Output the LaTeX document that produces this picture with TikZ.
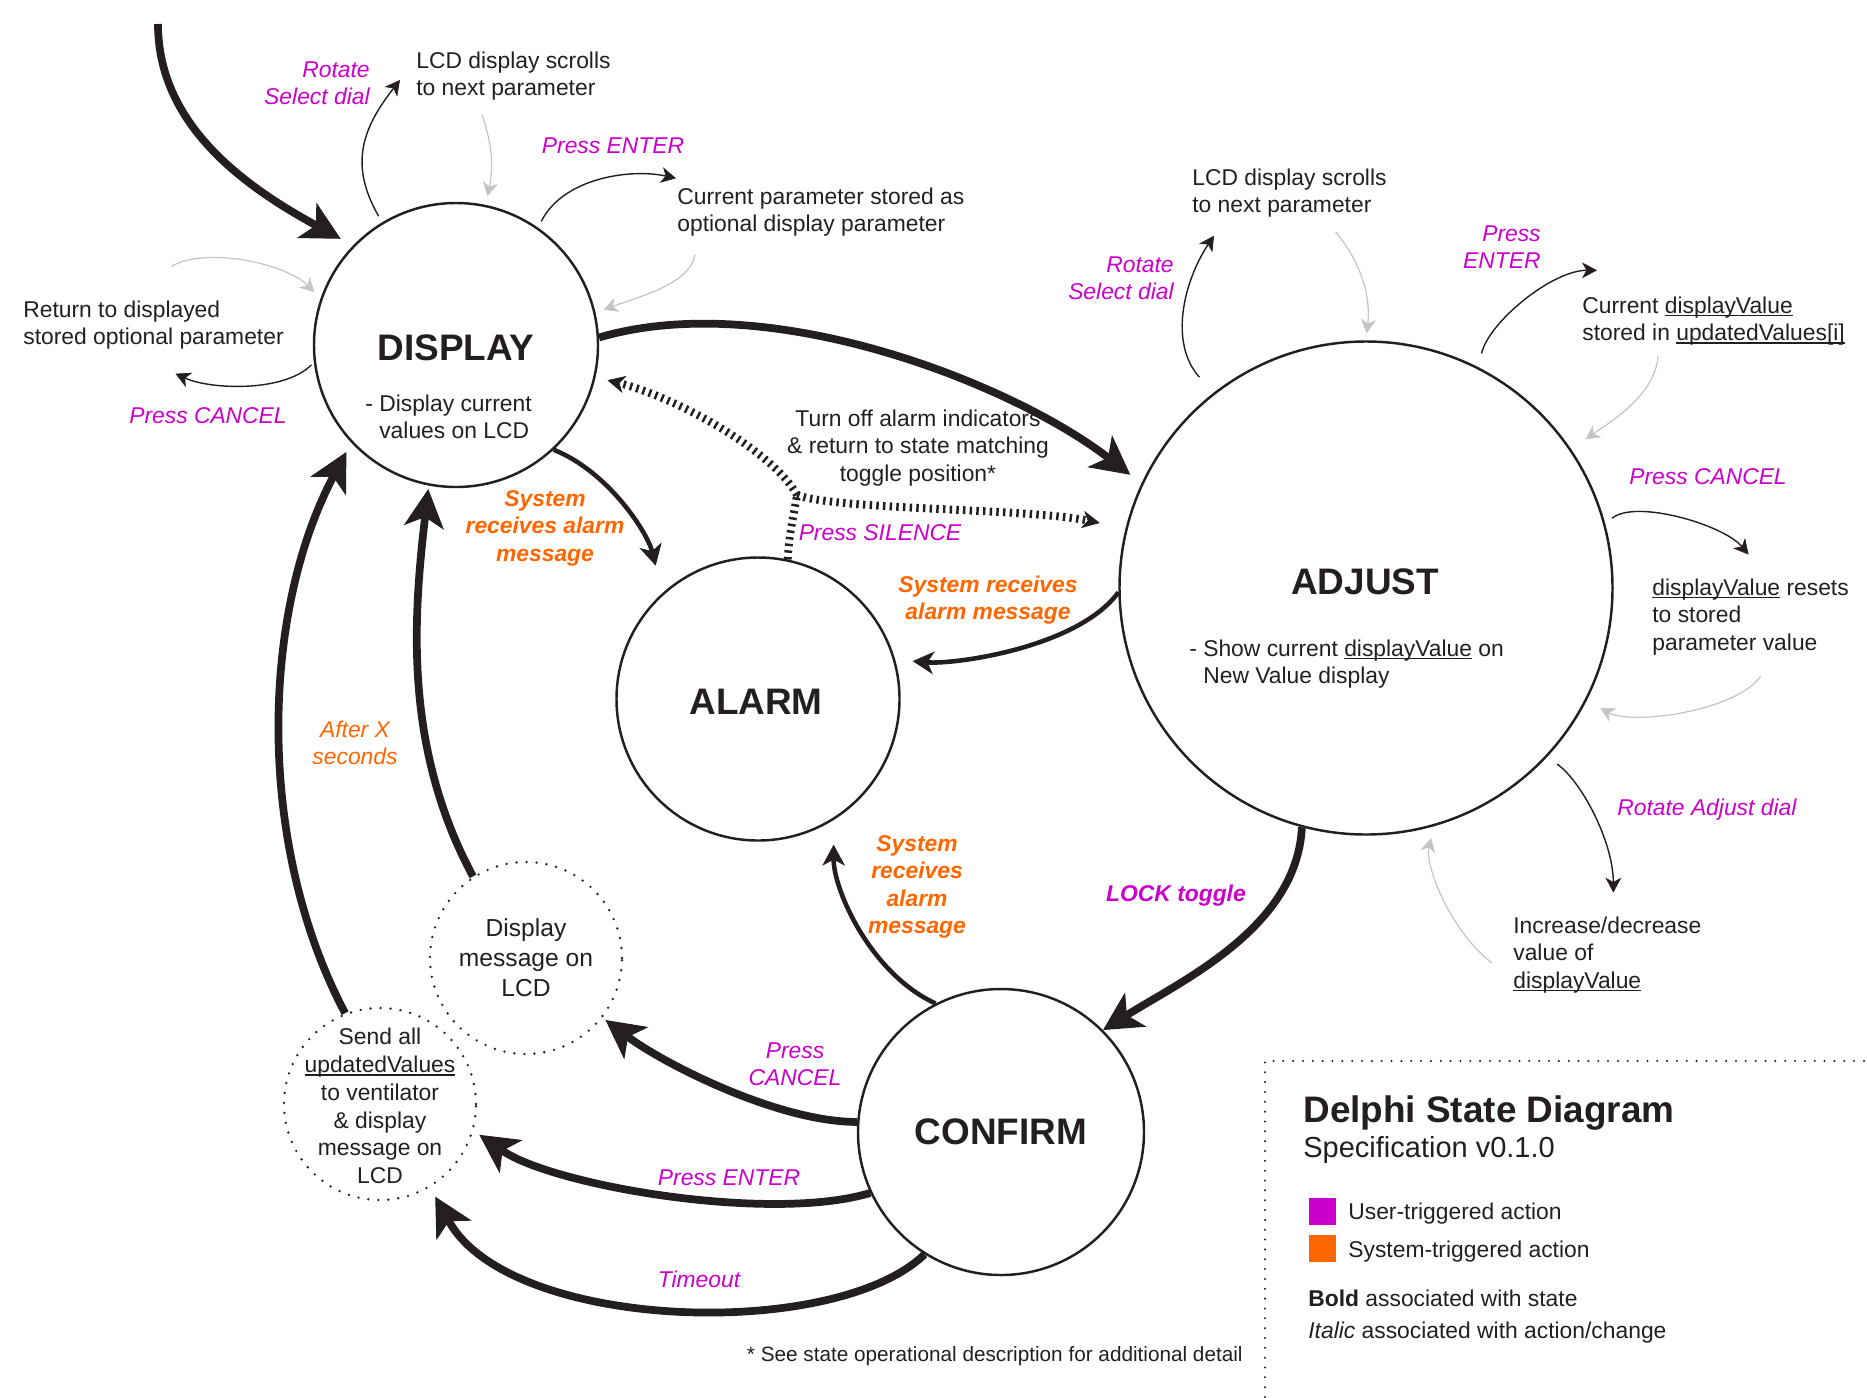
\documentclass[tikz,border=0pt]{standalone}
\usepackage{fontspec}
\setmainfont{Liberation Sans}
\usetikzlibrary{arrows.meta, calc}

\definecolor{inkblack}{HTML}{231F20}
\definecolor{usermagenta}{HTML}{CC00CC}
\definecolor{sysorange}{HTML}{FF6600}
\definecolor{returngray}{HTML}{C4C4C4}

% underlined variable names
\newcommand{\codeword}[1]{\setbox0\hbox{#1}\rlap{\rule[-1.7pt]{\wd0}{0.7pt}}\box0\relax}

\begin{document}
\begin{tikzpicture}[x=0.2mm, y=-0.2mm]
    % --- Style Definitions ---
    \tikzset{
        % State circles
        state style/.style={
            circle,
            draw=inkblack,
            line width=1.4pt,
            inner sep=0pt
        },
        % Dotted intermediate steps
        message circle/.style={
            circle,
            draw=inkblack,
            line width=1.5pt,
            line cap=round,
            dash pattern=on 0pt off 5.7pt,
            minimum size=38.4mm,
            inner sep=0pt
        },
        % Text styling
        state title/.style={font=\fontsize{21}{25}\selectfont\bfseries, text=inkblack, inner sep=0pt},
        body text/.style={font=\fontsize{13}{15.6}\selectfont, text=inkblack, inner sep=0pt},
        user text/.style={font=\fontsize{13}{15.6}\selectfont\itshape, text=usermagenta, inner sep=0pt},
        system text/.style={font=\fontsize{13}{15.6}\selectfont\bfseries\itshape, text=sysorange, inner sep=0pt},
        % Arrow styling
        thick arrow/.style={
            -{Stealth[length=22pt, width=23pt, inset=6pt, line width=0.6pt]},
            line width=4.4pt,
            draw=inkblack
        },
        mid arrow/.style={
            -{Stealth[length=12pt, width=13pt, inset=3.5pt, line width=0.6pt]},
            line width=2.6pt,
            draw=inkblack
        },
        thin arrow/.style={
            -{Stealth[length=8.5pt, width=9pt, inset=2.5pt, line width=0.4pt]},
            line width=0.8pt,
            draw=inkblack
        },
        gray arrow/.style={
            -{Stealth[length=8pt, width=8.5pt, inset=2.5pt, line width=0.4pt]},
            line width=0.7pt,
            draw=returngray
        },
        silence line/.style={
            line width=4.5pt,
            dash pattern=on 1.4pt off 2.4pt,
            draw=inkblack
        },
        silence arrow/.style={
            silence line,
            -{Stealth[length=10pt, width=10pt, inset=3pt, line width=0.4pt]}
        },
        legend border/.style={
            draw=inkblack,
            line width=1.3pt,
            line cap=round,
            dash pattern=on 0pt off 5.6pt
        }
    }

    \useasboundingbox (0,0) rectangle (1867,1397);

    % ==========================================
    % STATES
    % ==========================================
    \node[state style, minimum size=56.8mm] (display) at (456,345) {};
    \node[state style, minimum size=98.6mm] (adjust) at (1366,588) {};
    \node[state style, minimum size=56.6mm] (alarm) at (758,699) {};
    \node[state style, minimum size=57.2mm] (confirm) at (1001,1132) {};

    \node[state title] (display title) at (456,348) {DISPLAY};
    \node[body text, anchor=west, align=left] (display desc) at (365,417)
        {- Display current\\\phantom{- }values on LCD};
    \node[state title] (adjust title) at (1365,582) {ADJUST};
    \node[body text, anchor=west, align=left] (adjust desc) at (1189,664)
        {- Show current \codeword{displayValue} on\\\phantom{- }New Value display};
    \node[state title] (alarm title) at (756,702) {ALARM};
    \node[state title] (confirm title) at (1001,1132) {CONFIRM};

    % Dotted steps
    \node[message circle] (msg) at (526,958) {};
    \node[body text, font=\fontsize{14}{17}\selectfont, align=center] (msg text) at (msg.center)
        {Display\\message on\\LCD};
    \node[message circle] (send) at (380,1104) {};
    \node[body text, font=\fontsize{13}{15.8}\selectfont, align=center] (send text) at (380,1106)
        {Send all\\\codeword{updatedValues}\\to ventilator\\\& display\\message on\\LCD};

    % ==========================================
    % STATE TRANSITIONS
    % ==========================================
    \coordinate (entry) at (158,24);
    \draw[thick arrow, shorten >=8pt] (entry) .. controls +(0,100) and +(-110,-60) .. (display.136);

    % DISPLAY -> ADJUST
    \draw[thick arrow, shorten >=8pt] (display.3) .. controls +(170,-50) and +(-130,-100) .. (adjust.155);

    % DISPLAY -> ALARM
    \draw[mid arrow, shorten >=16pt] (display.-47) .. controls +(55,22) and +(-15,-60) .. (alarm.132);
    \node[system text, align=center] (sys display) at (545,528) {System\\receives alarm\\message};

    % ADJUST -> ALARM
    \draw[mid arrow, shorten >=10pt] (adjust.181) .. controls +(-40,55) and +(60,5) .. (alarm.16);
    \node[system text, align=center] (sys adjust) at (988,600) {System receives\\alarm message};

    % ALARM -> DISPLAY / ADJUST (silence)
    \coordinate (silence split) at (797,495);
    \draw[silence line] (alarm.78) .. controls +(2,-30) and +(-4,25) .. (silence split);
    \draw[silence arrow, shorten >=7pt] (silence split) .. controls +(-25,-45) and +(80,20) .. (display.-13);
    \draw[silence arrow, shorten >=15pt] (silence split) .. controls +(40,15) and +(-100,-20) .. (adjust.166);
    \node[body text, align=center] (silence note) at (918,448)
        {Turn off alarm indicators\\\& return to state matching\\toggle position*};
    \node[user text] (press silence) at (880,533) {Press SILENCE};

    % ADJUST -> CONFIRM
    \draw[thick arrow] (adjust.-105) .. controls +(-5,100) and +(80,-50) .. (confirm.45);
    \node[user text, font=\fontsize{13}{15.6}\selectfont\bfseries\itshape] (lock) at (1176,896) {LOCK toggle};

    % CONFIRM -> ALARM
    \draw[mid arrow, shorten >=14pt] (confirm.117) .. controls +(-65,-30) and +(0,70) .. (alarm.-58);
    \node[system text, align=center] (sys confirm) at (917,887) {System\\receives\\alarm\\message};

    % CONFIRM -> dotted steps
    \draw[thick arrow, shorten >=2pt] (confirm.176) .. controls +(-80,0) and +(60,45) .. (msg.-38);
    \node[user text, align=center] (confirm cancel) at (795,1064) {Press\\CANCEL};
    \draw[thick arrow, shorten >=4pt] (confirm.-155) .. controls +(-100,30) and +(80,55) .. (send.-16);
    \node[user text] (confirm enter) at (729,1178) {Press ENTER};
    \draw[thick arrow, shorten >=6pt] (confirm.-122) .. controls +(-90,87) and +(80,144) .. (send.-59);
    \node[user text] (timeout) at (699,1279) {Timeout};

    % dotted steps -> DISPLAY
    \draw[thick arrow, shorten >=2pt] (msg.123) .. controls +(-70,-130) and +(-15,130) .. (display.-101);
    \draw[thick arrow, shorten >=6pt] (send.111) .. controls +(-90,-170) and +(-90,170) .. (display.-137);
    \node[user text, text=sysorange, align=center] (after x) at (355,743) {After X\\seconds};

    % ==========================================
    % DISPLAY SELF ACTIONS
    % ==========================================
    \node[user text, align=right, anchor=east] (rotate display) at (370,83) {Rotate\\Select dial};
    \node[body text, align=left, anchor=west] (lcd display) at (416,76) {LCD display scrolls\\to next parameter};
    \draw[thin arrow, shorten <=4pt] (display.121) .. controls +(-35,-60) and +(-35,45) .. ($(lcd display.west)+(-16,4)$);
    \draw[gray arrow, shorten >=5pt] ($(lcd display.south west)+(66,14)$) .. controls +(10,30) and +(8,-40) .. (display.78);

    \node[user text] (enter display) at (613,146) {Press ENTER};
    \node[body text, align=left, anchor=west] (stored display) at (677,212) {Current parameter stored as\\optional display parameter};
    \draw[thin arrow, shorten <=4pt] (display.55) .. controls +(25,-50) and +(-45,-10) .. ($(stored display.north west)+(-1,-9)$);
    \draw[gray arrow, shorten >=5pt] ($(stored display.south west)+(18,18)$) .. controls +(-5,30) and +(40,-15) .. (display.13);

    \node[body text, align=left, anchor=west] (return display) at (23,325) {Return to displayed\\stored optional parameter};
    \node[user text] (cancel display) at (208,416) {Press CANCEL};
    \draw[gray arrow, shorten >=5pt] ($(return display.north)+(18,-34)$) .. controls +(35,-20) and +(-35,-35) .. (display.161);
    \draw[thin arrow, shorten <=2pt] (display.187) .. controls +(-30,30) and +(35,16) .. ($(return display.south)+(22,24)$);

    % ==========================================
    % ADJUST SELF ACTIONS
    % ==========================================
    \node[user text, align=right, anchor=east] (rotate adjust) at (1174,278) {Rotate\\Select dial};
    \node[body text, align=left, anchor=west] (lcd adjust) at (1192,193) {LCD display scrolls\\to next parameter};
    \draw[thin arrow, shorten <=12pt] (adjust.128) .. controls +(-45,-50) and +(-30,45) .. ($(lcd adjust.south west)+(22,18)$);
    \draw[gray arrow, shorten >=4pt] ($(lcd adjust.south)+(46,14)$) .. controls +(25,30) and +(5,-45) .. (adjust.90);

    \node[user text, align=right, anchor=east] (enter adjust) at (1541,247) {Press\\ENTER};
    \node[body text, align=left, anchor=west] (stored adjust) at (1582,321)
        {Current \codeword{displayValue}\\stored in \codeword{updatedValues[i]}};
    \draw[thin arrow, shorten <=8pt] (adjust.63) .. controls +(10,-45) and +(-45,0) .. ($(stored adjust.north west)+(15,-26)$);
    \draw[gray arrow, shorten >=10pt] ($(stored adjust.south west)+(76,10)$) .. controls +(-2,40) and +(35,-25) .. (adjust.34);

    \node[user text] (cancel adjust) at (1708,477) {Press CANCEL};
    \node[body text, align=left, anchor=west] (reset adjust) at (1652,617)
        {\codeword{displayValue} resets\\to stored\\parameter value};
    \draw[thin arrow, shorten <=5pt] (adjust.15) .. controls +(30,-25) and +(-25,-30) .. ($(reset adjust.north)+(-2,-24)$);
    \draw[gray arrow, shorten >=9pt] ($(reset adjust.south)+(10,21)$) .. controls +(-25,35) and +(45,25) .. (adjust.-27);

    \node[user text, anchor=west] (dial adjust) at (1617,810) {Rotate Adjust dial};
    \node[body text, align=left, anchor=west] (change adjust) at (1513,955)
        {Increase/decrease\\value of\\\codeword{displayValue}};
    \draw[thin arrow, shorten <=7pt] (adjust.-43) .. controls +(35,25) and +(0,-50) .. ($(change adjust.north)+(6,-24)$);
    \draw[gray arrow, shorten >=7pt] ($(change adjust.west)+(-21,8)$) .. controls +(-40,-30) and +(-10,40) .. (adjust.-74);

    % ==========================================
    % FOOTNOTE AND LEGEND
    % ==========================================
    \node[body text, font=\fontsize{11.8}{14}\selectfont, anchor=base east] (footnote) at (1243,1361)
        {* See state operational description for additional detail};

    \draw[legend border] (1265,1397) -- (1265,1061) -- (1867,1061);
    \node[body text, font=\fontsize{21}{25}\selectfont\bfseries, anchor=base west] (legend title) at (1303,1122) {Delphi State Diagram};
    \node[body text, font=\fontsize{16.5}{19}\selectfont, anchor=base west] (legend version) at (1303,1157) {Specification v0.1.0};
    \node[fill=usermagenta, minimum size=5.4mm, inner sep=0pt] (user key) at (1322,1211.5) {};
    \node[fill=sysorange, minimum size=5.4mm, inner sep=0pt] (system key) at (1322,1248.5) {};
    \node[body text, anchor=base west] (user key text) at (1348,1219) {User-triggered action};
    \node[body text, anchor=base west] (system key text) at (1348,1257) {System-triggered action};
    \node[body text, anchor=base west] (bold key) at (1308,1306) {\textbf{Bold} associated with state};
    \node[body text, anchor=base west] (italic key) at (1308,1338) {\textit{Italic} associated with action/change};

\end{tikzpicture}
\end{document}
